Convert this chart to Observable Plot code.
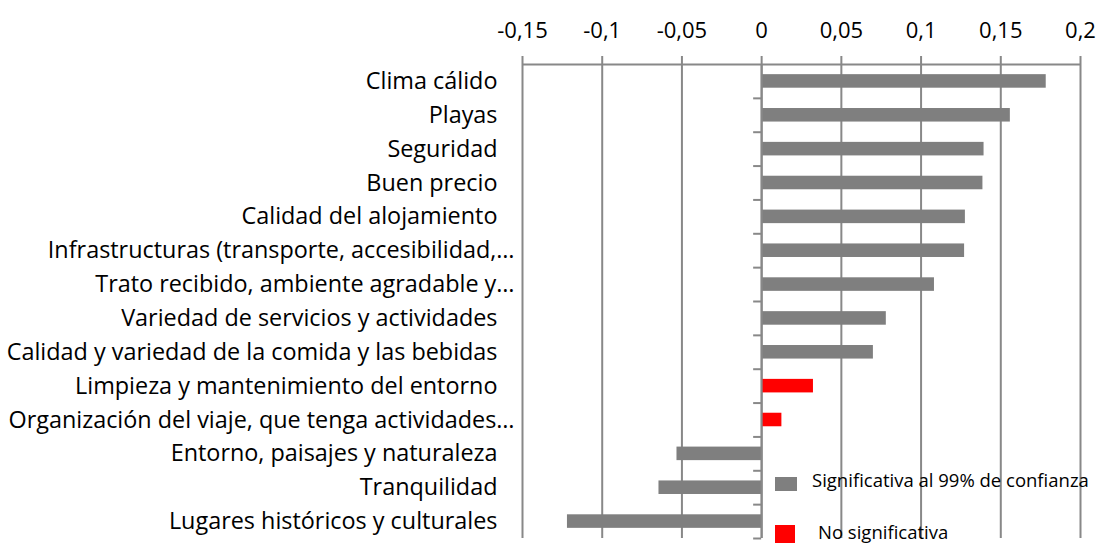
<!DOCTYPE html>
<html>
<head>
<meta charset="utf-8">
<script src="https://cdn.jsdelivr.net/npm/d3@7"></script>
<script src="https://cdn.jsdelivr.net/npm/@observablehq/plot@0.6"></script>
<style>
  html, body { margin: 0; padding: 0; background: #fff; }
  #chart { position: relative; width: 1099px; height: 543px; overflow: hidden; font-family: "Open Sans", sans-serif; }
  #legend { position: absolute; left: 775px; top: 469px; font-size: 18.5px; color: #000; }
  .item { position: absolute; white-space: nowrap; line-height: 1.2; }
  .sw { position: absolute; }
</style>
</head>
<body>
<div id="chart"></div>
<script>
const categories = [
  "Clima cálido",
  "Playas",
  "Seguridad",
  "Buen precio",
  "Calidad del alojamiento",
  "Infrastructuras (transporte, accesibilidad,…",
  "Trato recibido, ambiente agradable y…",
  "Variedad de servicios y actividades",
  "Calidad y variedad de la comida y las bebidas",
  "Limpieza y mantenimiento del entorno",
  "Organización del viaje, que tenga actividades…",
  "Entorno, paisajes y naturaleza",
  "Tranquilidad",
  "Lugares históricos y culturales"
];
const values = [0.1785, 0.156, 0.1395, 0.1388, 0.1278, 0.1273, 0.1084, 0.0782, 0.0701, 0.0325, 0.0127, -0.0531, -0.0644, -0.1218];
const significant = [true, true, true, true, true, true, true, true, true, false, false, true, true, true];
const xTicks = [-0.15, -0.1, -0.05, 0, 0.05, 0.1, 0.15, 0.2];
const legendLabels = ["Significativa al 99% de confianza", "No significativa"];
const legendColors = ["#7f7f7f", "#ff0000"];

const data = categories.map((c, i) => ({
  cat: c,
  value: values[i],
  group: significant[i] ? legendLabels[0] : legendLabels[1],
  idx: i,
  trunc: c.endsWith("…")
}));
const boundaries = d3.range(1, categories.length + 1);
const fmt = d => String(d).replace(".", ",");
const grid = "#888888";

const chart = Plot.plot({
  width: 1099,
  height: 543,
  marginTop: 64,
  marginBottom: 5,
  marginLeft: 522,
  marginRight: 19,
  style: { fontFamily: "Open Sans, sans-serif", fontSize: "22px", color: "#000", background: "#fff" },
  x: { domain: [xTicks[0], xTicks[xTicks.length - 1]], axis: null },
  y: { domain: [0, categories.length], reverse: true, axis: null },
  color: { domain: legendLabels, range: legendColors },
  marks: [
    Plot.ruleX(xTicks, { x: d => d, stroke: grid, strokeWidth: 2, insetTop: -8 }),
    Plot.ruleY([0], { stroke: grid, strokeWidth: 2 }),
    Plot.rectX(data, { x1: 0, x2: "value", y1: d => d.idx + 0.3, y2: d => d.idx + 0.7, fill: "group" }),
    Plot.ruleX([0], { stroke: grid, strokeWidth: 2 }),
    Plot.ruleY(boundaries, { y: d => d, x1: 0, x2: 0, insetLeft: -8, stroke: grid, strokeWidth: 2 }),
    Plot.text(xTicks, { x: d => d, text: fmt, frameAnchor: "top", lineAnchor: "middle", dy: -34, fontSize: 22, fill: "#000" }),
    Plot.text(data.filter(d => !d.trunc), { y: d => d.idx + 0.5, text: "cat", frameAnchor: "left", textAnchor: "end", lineAnchor: "middle", dx: -25, fontSize: 23.4, fill: "#000" }),
    Plot.text(data.filter(d => d.trunc), { y: d => d.idx + 0.5, text: "cat", frameAnchor: "left", textAnchor: "end", lineAnchor: "middle", dx: -8, fontSize: 23.4, fill: "#000" })
  ]
});

const root = document.getElementById("chart");
root.appendChild(chart);

const legend = document.createElement("div");
legend.id = "legend";
legendLabels.forEach((lab, i) => {
  const sw = document.createElement("div");
  sw.className = "sw";
  sw.style.left = "0px";
  sw.style.top = (i === 0 ? 8 : 56) + "px";
  sw.style.width = (i === 0 ? 22 : 20) + "px";
  sw.style.height = (i === 0 ? 14 : 18) + "px";
  sw.style.background = legendColors[i];
  legend.appendChild(sw);
  const t = document.createElement("div");
  t.className = "item";
  t.style.left = (i === 0 ? 37 : 43) + "px";
  t.style.top = (i === 0 ? 0 : 52) + "px";
  t.textContent = lab;
  legend.appendChild(t);
});
root.appendChild(legend);
</script>
</body>
</html>
